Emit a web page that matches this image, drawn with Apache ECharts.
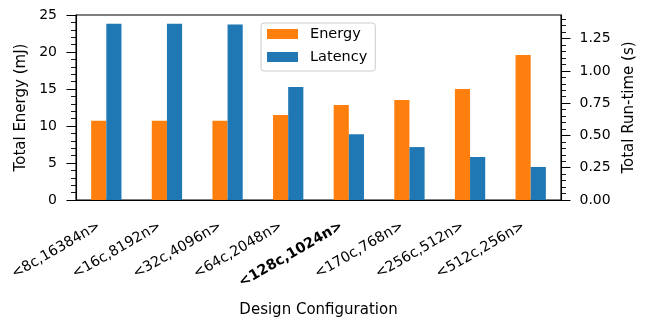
<!DOCTYPE html>
<html>
<head>
<meta charset="utf-8">
<script src="https://cdn.jsdelivr.net/npm/echarts@6/dist/echarts.min.js"></script>
<style>html,body{margin:0;padding:0;background:#fff;}#c{width:646px;height:320px;}</style>
</head>
<body>
<div id="c"></div>
<script>
const categories = ['<8c,16384n>', '<16c,8192n>', '<32c,4096n>', '<64c,2048n>', '<128c,1024n>', '<170c,768n>', '<256c,512n>', '<512c,256n>'];
const energy = [10.7, 10.7, 10.7, 11.5, 12.85, 13.5, 15.0, 19.6];
const latency = [1.365, 1.365, 1.36, 0.875, 0.51, 0.41, 0.333, 0.256];
const energyTicks = [0, 5, 10, 15, 20, 25];
const latencyTicks = [0, 0.25, 0.5, 0.75, 1.0, 1.25];
const latencyMinorTicks = [0.05,0.1,0.15,0.2,0.3,0.35,0.4,0.45,0.55,0.6,0.65,0.7,0.8,0.85,0.9,0.95,1.05,1.1,1.15,1.2,1.3,1.35,1.4];
const boldIndex = 4;

const FONT = 'DejaVu Sans';
const latMax = Math.max(...latency) * 1.05;

const chart = echarts.init(document.getElementById('c'), null, {renderer: 'canvas'});
chart.setOption({
  animation: false,
  backgroundColor: '#fff',
  textStyle: {fontFamily: FONT, color: '#000'},
  grid: {left: 76, right: 85, top: 15, bottom: 120, containLabel: false, outerBoundsMode: 'none',
    show: true, borderColor: '#000', borderWidth: 1.1, backgroundColor: 'transparent'},
  legend: {
    left: 261, top: 23, orient: 'vertical',
    itemWidth: 31, itemHeight: 10, itemGap: 7,
    icon: 'rect',
    padding: [3, 8, 6, 6],
    borderColor: '#cccccc', borderWidth: 1, borderRadius: 3,
    backgroundColor: 'rgba(255,255,255,0.8)',
    textStyle: {fontFamily: FONT, fontSize: 14.5, color: '#000', lineHeight: 16, padding: [0, 0, 0, 7]},
    data: ['Energy', 'Latency']
  },
  xAxis: {
    type: 'category', data: categories,
    name: 'Design Configuration', nameLocation: 'middle', nameGap: 103,
    nameTextStyle: {fontFamily: FONT, fontSize: 15, color: '#000'},
    axisLine: {lineStyle: {color: '#000', width: 1.1}},
    axisTick: {alignWithLabel: true, length: 9, lineStyle: {color: '#000', width: 1}},
    axisLabel: {
      rotate: 30, margin: 21, fontFamily: FONT, fontSize: 14.3, color: '#000', interval: 0,
      padding: [0, 8, 0, 0],
      formatter: function (v, i) { return i === boldIndex ? '{b|' + v + '}' : v; },
      rich: {b: {fontFamily: FONT, fontSize: 14.3, fontWeight: 'bold', color: '#000'}}
    },
    splitLine: {show: false}
  },
  yAxis: [
    {
      type: 'value', position: 'left', min: energyTicks[0], max: energyTicks[energyTicks.length - 1], interval: 5,
      name: 'Total Energy (mJ)', nameLocation: 'middle', nameGap: 47, nameRotate: 90,
      nameTextStyle: {fontFamily: FONT, fontSize: 15, color: '#000'},
      axisLine: {show: true, lineStyle: {color: '#000', width: 1.1}},
      axisTick: {show: true, length: 9.5, lineStyle: {color: '#000', width: 1}},
      minorTick: {show: true, splitNumber: 5, length: 5, lineStyle: {color: '#000', width: 0.9}},
      axisLabel: {margin: 19, fontFamily: FONT, fontSize: 14, color: '#000'},
      splitLine: {show: false}
    },
    {
      type: 'value', position: 'right', min: 0, max: latMax,
      name: 'Total Run-time (s)', nameLocation: 'middle', nameGap: 61, nameRotate: 90,
      nameTextStyle: {fontFamily: FONT, fontSize: 15, color: '#000'},
      axisLine: {show: true, lineStyle: {color: '#000', width: 1.1}},
      axisTick: {show: true, length: 9.5, customValues: latencyTicks, lineStyle: {color: '#000', width: 1}},
      minorTick: {show: false},
      axisLabel: {margin: 18.5, fontFamily: FONT, fontSize: 14, color: '#000', customValues: latencyTicks,
        formatter: function (v) { return v.toFixed(2); }},
      splitLine: {show: false}
    },
    {
      type: 'value', position: 'right', min: 0, max: latMax,
      axisLine: {show: false},
      axisTick: {show: true, length: 5, customValues: latencyMinorTicks, lineStyle: {color: '#000', width: 0.9}},
      axisLabel: {show: false},
      splitLine: {show: false}
    }
  ],
  series: [
    {name: 'Energy', type: 'bar', yAxisIndex: 0, data: energy, barWidth: '25%', barGap: '0%',
      itemStyle: {color: '#ff7f0e'}},
    {name: 'Latency', type: 'bar', yAxisIndex: 1, data: latency, barWidth: '25%', barGap: '0%',
      itemStyle: {color: '#1f77b4'}}
  ]
});
</script>
</body>
</html>
